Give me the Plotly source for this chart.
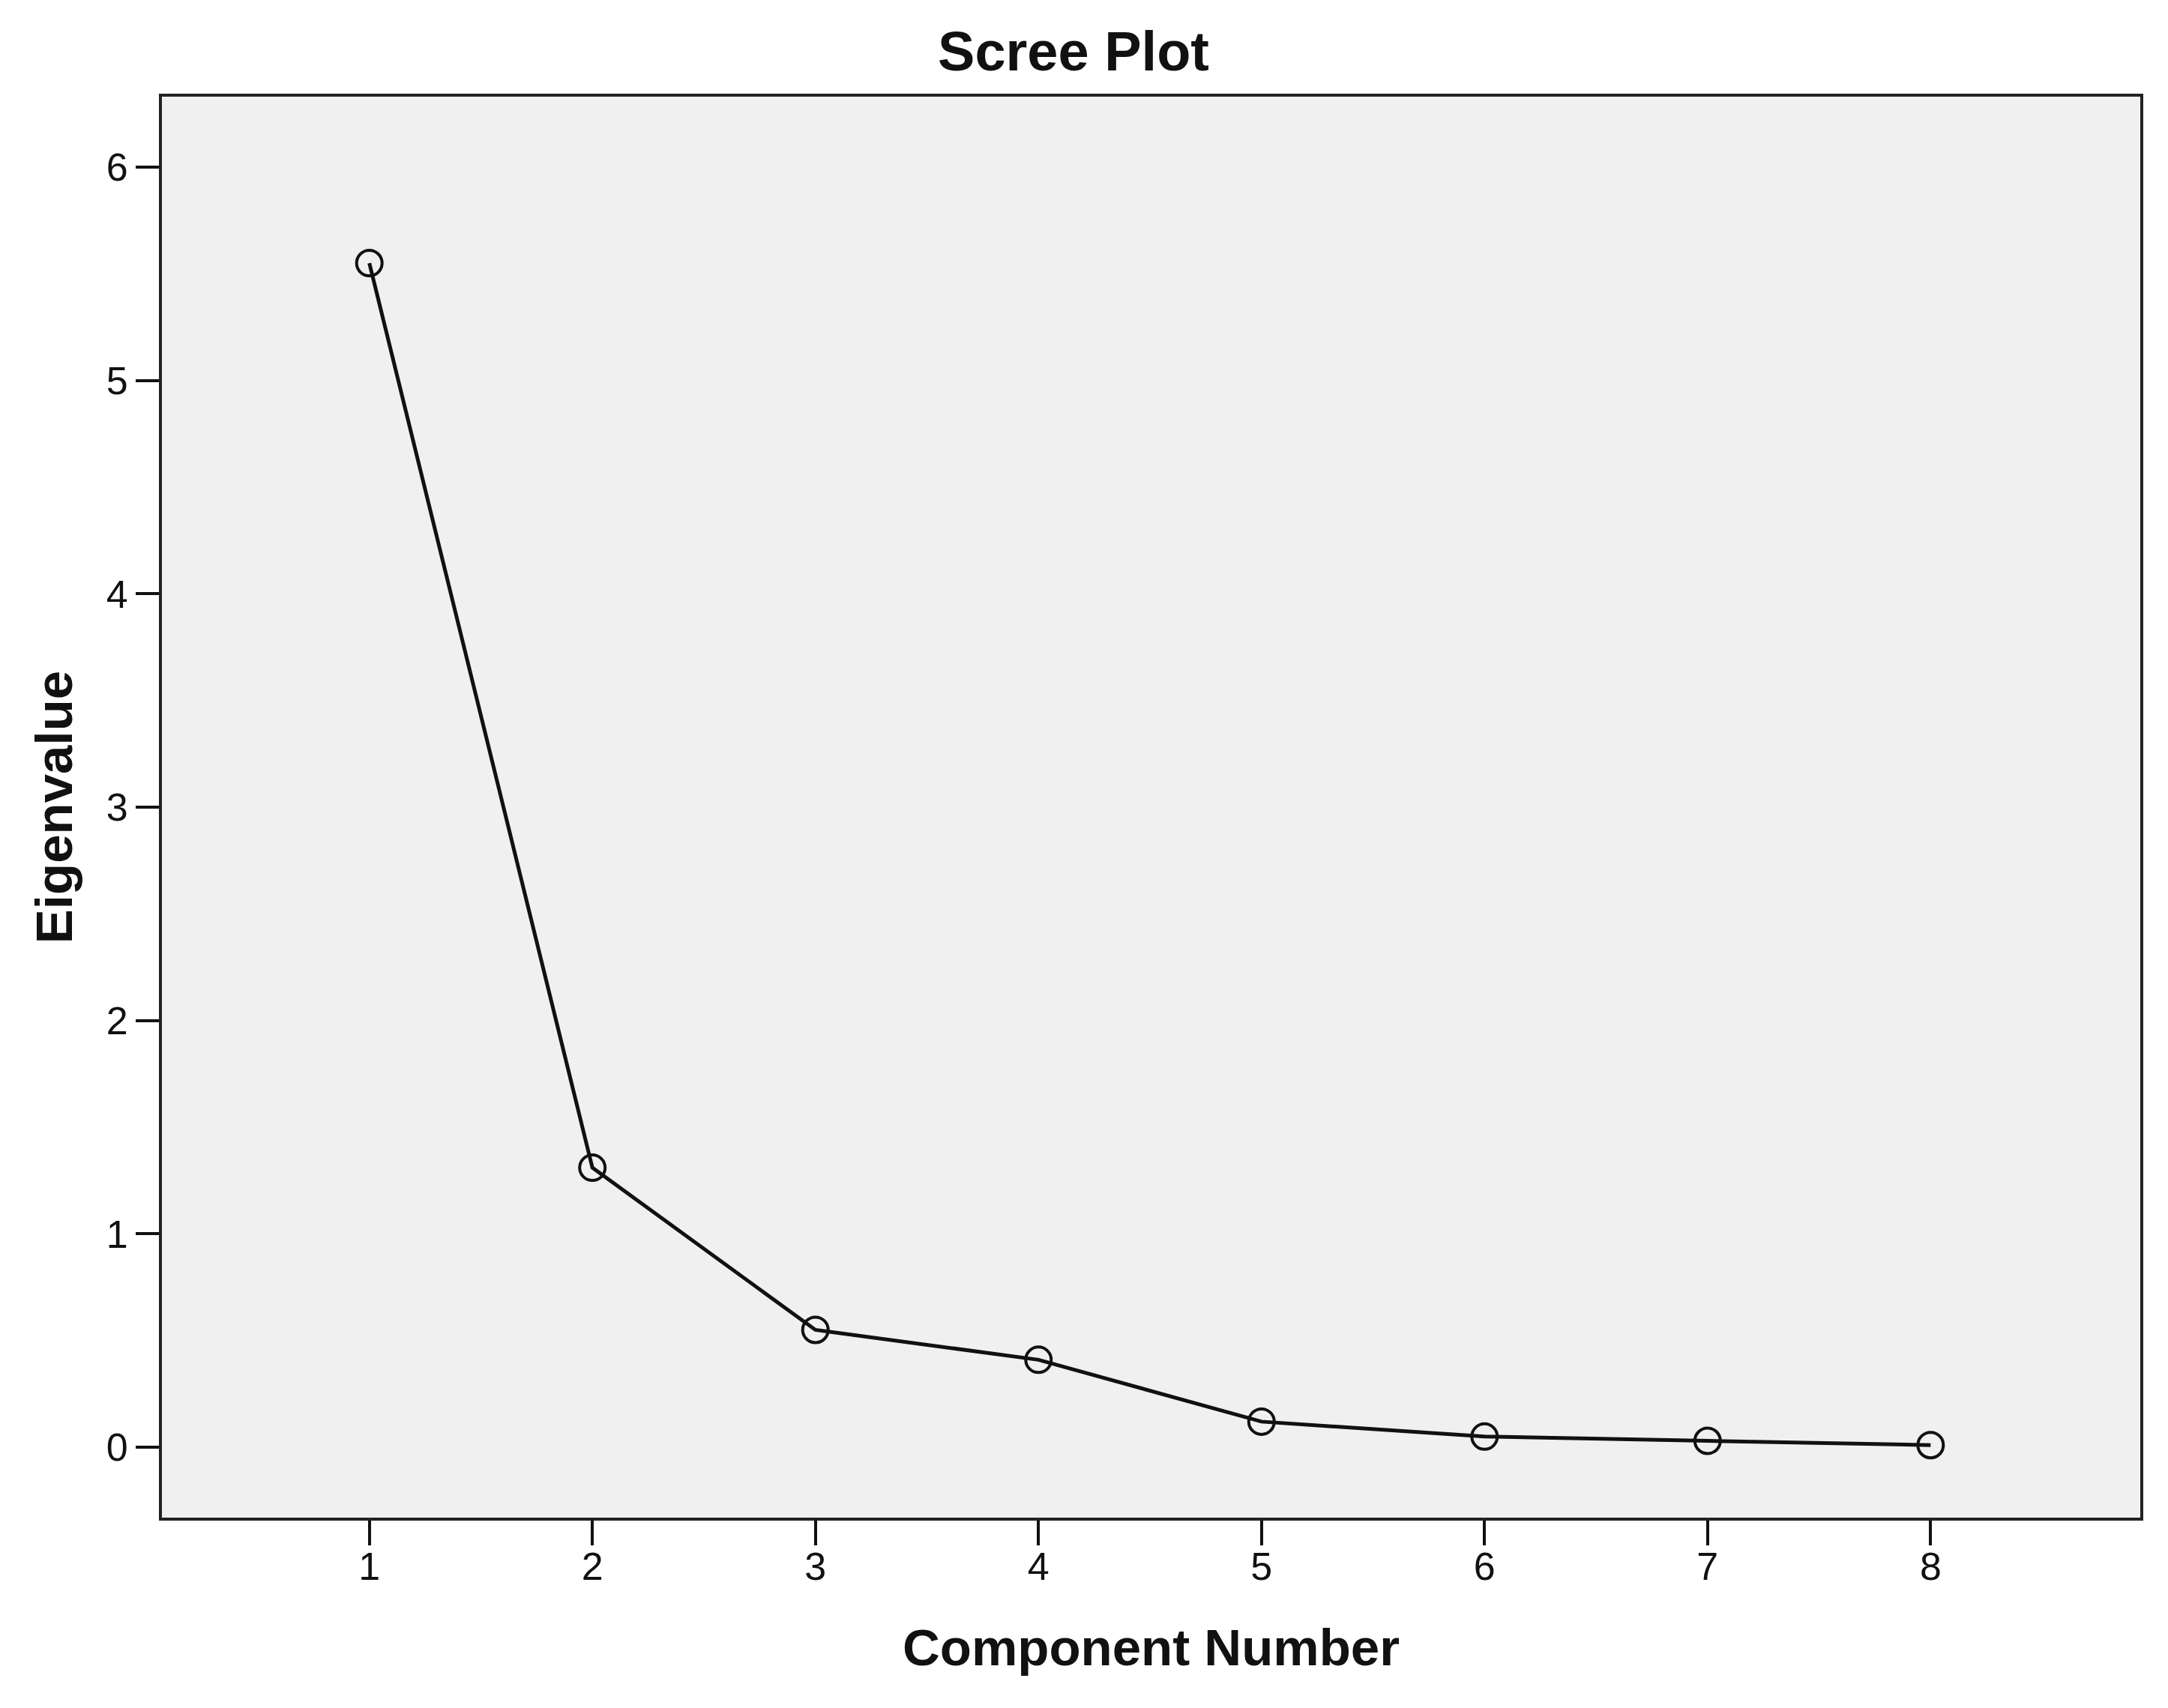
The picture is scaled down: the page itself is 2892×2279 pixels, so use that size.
import plotly.graph_objects as go

# Data
components = [1, 2, 3, 4, 5, 6, 7, 8]
eigenvalues = [5.55, 1.31, 0.55, 0.41, 0.12, 0.05, 0.03, 0.01]
y_ticks = [0, 1, 2, 3, 4, 5, 6]

fig = go.Figure()

fig.add_trace(go.Scatter(
    x=components,
    y=eigenvalues,
    mode='lines+markers',
    line=dict(color='#111111', width=5),
    marker=dict(symbol='circle-open', size=34, color='#111111',
                line=dict(width=4, color='#111111')),
    showlegend=False
))

axis_font = dict(family='Liberation Sans, Arial, sans-serif', size=52, color='#111111')
title_font = dict(family='Liberation Sans, Arial, sans-serif', size=69, color='#111111')

# the page body adds 8px on the left and top, margins allow for it
fig.update_layout(
    width=2892,
    height=2279,
    margin=dict(l=208, r=45, t=121, b=262),
    paper_bgcolor='white',
    plot_bgcolor='#f0f0f0',
    title=dict(
        text='<b>Scree Plot</b>',
        x=0.4924, xref='container', xanchor='center',
        y=0.9737, yref='container', yanchor='middle',
        font=dict(family='Liberation Sans, Arial, sans-serif', size=74, color='#111111')
    ),
    xaxis=dict(
        range=[0.07, 8.94],
        tickvals=components,
        ticks='outside', ticklen=33, tickwidth=4, tickcolor='#111111',
        ticklabelstandoff=-16,
        showgrid=False, zeroline=False,
        showline=True, linecolor='#222222', linewidth=4, mirror=True,
        tickfont=axis_font,
        title=dict(text='<b>Component Number</b>', font=title_font, standoff=56)
    ),
    yaxis=dict(
        range=[-0.33, 6.33],
        tickvals=y_ticks,
        ticks='outside', ticklen=31, tickwidth=4, tickcolor='#111111',
        showgrid=False, zeroline=False,
        showline=True, linecolor='#222222', linewidth=4, mirror=True,
        tickfont=axis_font,
        title=dict(text='<b>Eigenvalue</b>', font=title_font, standoff=24)
    )
)

fig.write_html("out.html")
